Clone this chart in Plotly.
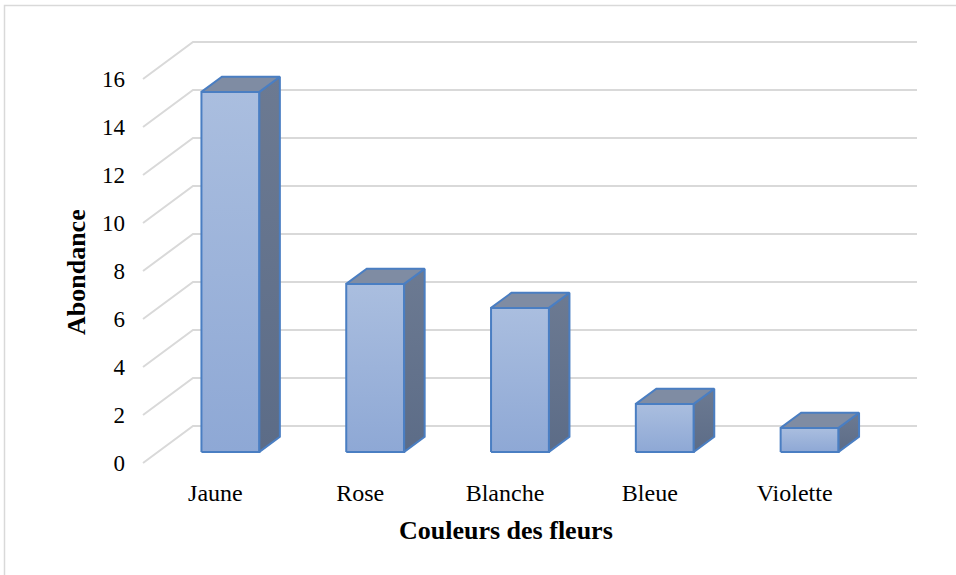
import plotly.graph_objects as go

# ---- data ----
categories = ["Jaune", "Rose", "Blanche", "Bleue", "Violette"]
abondance = [15, 7, 6, 2, 1]
y_ticks = [0, 2, 4, 6, 8, 10, 12, 14, 16]
x_title = "Couleurs des fleurs"
y_title = "Abondance"

# ---- layout constants (pixels) ----
W, H = 956, 575
PX_CAT = 144.8          # pixels per category
PX_VAL = 24.0           # pixels per value unit
X0_PIX, Y0_PIX = 143, 463   # front-plane origin pixel
L, R, T, B = 128, 925, 35, 470   # plot area in pixels
DX = 50 / PX_CAT        # depth offset in category units
DY = 37 / PX_VAL        # depth offset in value units
BAR_W = 0.40
D0, D1 = 0.30, 0.71     # bar depth span (fraction of floor depth)

FONT = "Liberation Serif, Times New Roman, serif"
GRID = "#D9D9D9"
EDGE = "#4A7EC2"


def proj(c, v, d):
    return c + d * DX, v + d * DY


def px_to_paper_x(px):
    return (px - L) / (R - L)


def px_to_paper_y(py):
    return (B - py) / (B - T)


fig = go.Figure()

# gridlines with oblique left wall
gx, gy = [], []
n = len(categories)
for v in y_ticks:
    for (c, d) in [(0, 0), (0, 1), (n, 1)]:
        x, y = proj(c, v, d)
        gx.append(x)
        gy.append(y)
    gx.append(None)
    gy.append(None)
fig.add_trace(go.Scatter(x=gx, y=gy, mode="lines", line=dict(color=GRID, width=2),
                         hoverinfo="skip", showlegend=False))

# 3D-looking bars
for i, (cat, val) in enumerate(zip(categories, abondance)):
    cl = i + 0.5 - BAR_W / 2
    cr = i + 0.5 + BAR_W / 2
    # front face
    pts = [proj(cl, 0, D0), proj(cr, 0, D0), proj(cr, val, D0), proj(cl, val, D0), proj(cl, 0, D0)]
    fig.add_trace(go.Scatter(
        x=[p[0] for p in pts], y=[p[1] for p in pts], mode="lines", fill="toself",
        fillgradient=dict(type="vertical", colorscale=[[0, "#8EA8D5"], [1, "#AABEDF"]]),
        line=dict(color=EDGE, width=2), hoverinfo="skip", showlegend=False))
    # side face
    pts = [proj(cr, 0, D0), proj(cr, 0, D1), proj(cr, val, D1), proj(cr, val, D0), proj(cr, 0, D0)]
    fig.add_trace(go.Scatter(
        x=[p[0] for p in pts], y=[p[1] for p in pts], mode="lines", fill="toself",
        fillgradient=dict(type="vertical", colorscale=[[0, "#5C6C87"], [1, "#6C7A92"]]),
        line=dict(color=EDGE, width=2), hoverinfo="skip", showlegend=False))
    # top face
    pts = [proj(cl, val, D0), proj(cr, val, D0), proj(cr, val, D1), proj(cl, val, D1), proj(cl, val, D0)]
    fig.add_trace(go.Scatter(
        x=[p[0] for p in pts], y=[p[1] for p in pts], mode="lines", fill="toself",
        fillcolor="#7F8CA3", line=dict(color=EDGE, width=2),
        hoverinfo="skip", showlegend=False))

x_range = [(L - X0_PIX) / PX_CAT, (R - X0_PIX) / PX_CAT]
y_range = [(Y0_PIX - B) / PX_VAL, (Y0_PIX - T) / PX_VAL]

fig.update_layout(
    width=W, height=H,
    margin=dict(l=L, r=W - R, t=T, b=H - B),
    paper_bgcolor="white", plot_bgcolor="white",
    font=dict(family=FONT, color="#000000", size=23),
    xaxis=dict(range=x_range, showgrid=False, zeroline=False, showline=False, fixedrange=True,
               tickmode="array", tickvals=[i + 0.5 for i in range(n)], ticktext=categories,
               ticks="", ticklabelstandoff=6, tickfont=dict(family=FONT, size=24, color="#000")),
    yaxis=dict(range=y_range, showgrid=False, zeroline=False, showline=False, fixedrange=True,
               tickmode="array", tickvals=y_ticks, ticktext=[str(v) for v in y_ticks],
               ticks="", ticklabelstandoff=2, tickfont=dict(family=FONT, size=23, color="#000")),
    annotations=[
        dict(text="<b>%s</b>" % x_title, xref="paper", yref="paper",
             x=px_to_paper_x(506), y=px_to_paper_y(530), showarrow=False,
             xanchor="center", yanchor="middle", font=dict(family=FONT, size=26, color="#000")),
        dict(text="<b>%s</b>" % y_title, xref="paper", yref="paper", textangle=-90,
             x=px_to_paper_x(76), y=px_to_paper_y(272), showarrow=False,
             xanchor="center", yanchor="middle", font=dict(family=FONT, size=26, color="#000")),
    ],
    shapes=[dict(type="rect", xref="paper", yref="paper",
                 x0=px_to_paper_x(4.5), y0=px_to_paper_y(5.5),
                 x1=px_to_paper_x(W + 10), y1=px_to_paper_y(H + 10),
                 line=dict(color=GRID, width=1.5), fillcolor="rgba(0,0,0,0)", layer="below")],
)

fig.write_html("out.html", config={"displayModeBar": False},
               post_script="document.body.style.margin='0';document.body.style.overflow='hidden';")
